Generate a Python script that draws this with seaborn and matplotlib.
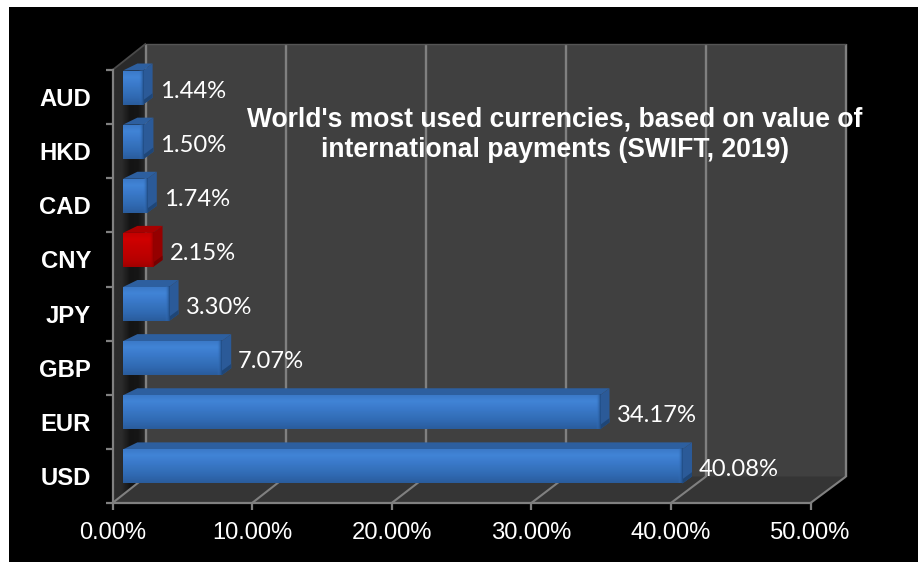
import matplotlib
matplotlib.use("Agg")
import matplotlib.pyplot as plt
import numpy as np
import pandas as pd
import seaborn as sns
from matplotlib.colors import LinearSegmentedColormap
from matplotlib.patches import Polygon, Rectangle
from matplotlib.transforms import IdentityTransform, Affine2D

currencies = ["AUD", "HKD", "CAD", "CNY", "JPY", "GBP", "EUR", "USD"]
shares = [1.44, 1.50, 1.74, 2.15, 3.30, 7.07, 34.17, 40.08]
highlighted = "CNY"
x_ticks = [0, 10, 20, 30, 40, 50]
title = "World's most used currencies, based on value of\ninternational payments (SWIFT, 2019)"

W, H, DPI = 918, 562, 100
LEFT, RIGHT, TOP, BOTTOM = 112.5, 810.5, 70.0, 503.0
WALL_DX, WALL_DY = 33.5, 26.5
WALL_SCALE = 700 / (RIGHT - LEFT)  # the back wall reads slightly wider in perspective
FACE_DX, FACE_DY = 10.5, 9.5
BACK_DX, BACK_DY = 20.0, 16.5
GRID = "#808080"

sns.set_theme(style="white")
fig = plt.figure(figsize=(W / DPI, H / DPI), dpi=DPI, facecolor="white")
fig.patches.append(Rectangle((9 / W, 0), 1, 1 - 7 / H, transform=fig.transFigure,
                             facecolor="black", edgecolor="none", zorder=-10))
ax = fig.add_axes([LEFT / W, 1 - BOTTOM / H, (RIGHT - LEFT) / W, (BOTTOM - TOP) / H])
ax.patch.set_alpha(0)

df = pd.DataFrame({"currency": currencies, "share": shares})
palette = {c: ("#c00000" if c == highlighted else "#3570b8") for c in currencies}
sns.barplot(data=df, y="currency", x="share", hue="currency", order=currencies,
            palette=palette, width=0.63, orient="h", legend=False, ax=ax, zorder=5)
ax.set_xlim(0, 50)
ax.set_ylim(len(currencies) - 0.5, -0.5)
fig.canvas.draw()


def to_px(x, y, dx=0.0, dy=0.0):
    px, py = ax.transData.transform((x, y))
    return px + dx, py + dy


def wall_px(x, y):
    px, py = ax.transData.transform((x, y))
    return LEFT + WALL_DX + (px - LEFT) * WALL_SCALE, py + WALL_DY


def poly(points, color, z):
    ax.add_patch(Polygon(points, closed=True, facecolor=color, edgecolor="none",
                         transform=IdentityTransform(), zorder=z, clip_on=False))


def segment(a, b, color, width, z=2):
    ax.plot([a[0], b[0]], [a[1], b[1]], color=color, linewidth=width, zorder=z,
            transform=IdentityTransform(), clip_on=False, solid_capstyle="butt")


y_low, y_high = len(currencies) - 0.5, -0.5

# Room: back wall, floor and left wall
poly([wall_px(0, y_low), wall_px(50, y_low), wall_px(50, y_high), wall_px(0, y_high)], "#404040", 1)
poly([to_px(0, y_low), to_px(50, y_low), wall_px(50, y_low), wall_px(0, y_low)], "#353535", 1)
left_wall = [to_px(0, y_low), wall_px(0, y_low), wall_px(0, y_high), to_px(0, y_high)]
poly(left_wall, "#2a2a2a", 1)

# Shadow band cast on the left wall
shade = LinearSegmentedColormap.from_list("shade", ["#2c2c2c", "#2c2c2c", "#141414", "#161616", "#2b2b2b"])
x0 = to_px(0, y_low)[0]
wall_img = ax.imshow(np.linspace(0, 1, 64)[None, :], cmap=shade, aspect="auto",
                     extent=(x0, x0 + WALL_DX, to_px(0, y_low)[1], wall_px(0, y_high)[1]),
                     transform=IdentityTransform(), zorder=1.2)
wall_img.set_clip_path(Polygon(left_wall, transform=IdentityTransform()))

# Gridlines on the back wall with their diagonals across the floor
for t in x_ticks:
    segment(wall_px(t, y_low), wall_px(t, y_high), GRID, 1.7)
    segment(to_px(t, y_low), wall_px(t, y_low), GRID, 1.5)
segment(to_px(0, y_high), wall_px(0, y_high), "#4a4a4a", 1.3)
segment(wall_px(0, y_high), wall_px(50, y_high), "#555555", 1.0)

# Extruded bars: the front face sits part-way into the room
face_tr = ax.transData + Affine2D().translate(FACE_DX, FACE_DY)
ramps = {
    "#3570b8": (["#3a78c6", "#4184d6", "#3b7acb", "#3572bd", "#2f68b0", "#2a5c9c"],
                "#2d5f9f", "#2b5a98", "#1f4677", "#1f4a80"),
    "#c00000": (["#c00000", "#d00000", "#c60000", "#c00000", "#b60000", "#a00000"],
                "#a80000", "#950000", "#760000", "#8c0000"),
}
for patch, cur in zip(ax.patches, currencies):
    x1 = patch.get_width()
    yt, yb = patch.get_y(), patch.get_y() + patch.get_height()
    stops, top_c, side_c, side_dark, edge_c = ramps[palette[cur]]
    patch.set_transform(face_tr)
    patch.set_linewidth(0)
    poly([to_px(0, yt, FACE_DX, FACE_DY), to_px(x1, yt, FACE_DX, FACE_DY),
          to_px(x1, yt, BACK_DX, BACK_DY), to_px(0.35, yt, BACK_DX, BACK_DY)], top_c, 4)
    poly([to_px(x1, yt, FACE_DX, FACE_DY), to_px(x1, yt, BACK_DX, BACK_DY),
          to_px(x1, yb, BACK_DX, BACK_DY), to_px(x1, yb, FACE_DX, FACE_DY)], side_c, 4)
    poly([to_px(x1, yb, FACE_DX, FACE_DY), to_px(x1, yb, BACK_DX, BACK_DY),
          to_px(x1, yb - 0.08, BACK_DX, BACK_DY), to_px(x1, yb - 0.08, FACE_DX, FACE_DY)], side_dark, 4.1)
    cmap = LinearSegmentedColormap.from_list(cur, stops)
    img = ax.imshow(np.linspace(0, 1, 64)[:, None], cmap=cmap, aspect="auto",
                    extent=(0, x1, yb, yt), transform=face_tr, zorder=6)
    img.set_clip_path(patch)
    # The right end of the face fades into the side
    fade = LinearSegmentedColormap.from_list(cur + "_fade", [stops[2] + "00", edge_c + "ff"])
    right_px = to_px(x1, yt, FACE_DX)[0]
    _, py_top = to_px(x1, yt, 0, FACE_DY)
    _, py_bot = to_px(x1, yb, 0, FACE_DY)
    ax.imshow(np.linspace(0, 1, 16)[None, :], cmap=fade, aspect="auto",
              extent=(right_px - 4.5, right_px, py_bot, py_top),
              transform=IdentityTransform(), zorder=6.5)
    ax.annotate(f"{x1:.2f}%", xy=(x1, currencies.index(cur)), xycoords="data",
                xytext=(27, 6), textcoords="offset pixels", ha="left", va="center",
                fontsize=17.1, family="Lato", color="white", zorder=10, annotation_clip=False)

ax.set_xlim(0, 50)
ax.set_ylim(y_low, y_high)

# Axes, ticks and tick labels
for side in ("top", "right"):
    ax.spines[side].set_visible(False)
for side in ("left", "bottom"):
    ax.spines[side].set_color(GRID)
    ax.spines[side].set_linewidth(1.6)
    ax.spines[side].set_zorder(3)
ax.set_xlabel("")
ax.set_ylabel("")
ax.set_xticks(x_ticks, [f"{t:.2f}%" for t in x_ticks])
ax.set_yticks(range(len(currencies)), currencies)
ax.set_yticks(np.arange(len(currencies) + 1) - 0.5, minor=True)
ax.tick_params(axis="x", which="major", bottom=True, length=5, width=1.6, color=GRID,
               labelcolor="white", labelsize=17.1, pad=9)
ax.tick_params(axis="y", which="major", left=False, labelcolor="white", labelsize=17.2, pad=9.5)
ax.tick_params(axis="y", which="minor", left=True, length=5, width=1.6, color=GRID)
for lab in ax.get_xticklabels():
    lab.set_family("Liberation Sans")
for lab in ax.get_yticklabels():
    lab.set_family("Liberation Sans")
    lab.set_fontweight("bold")

ax.set_title(title, x=(555 - LEFT) / (RIGHT - LEFT), y=(BOTTOM - 143.5) / (BOTTOM - TOP), va="center",
             fontsize=19.1, fontweight="bold", family="Liberation Sans", color="white",
             linespacing=1.22)
ax.title.set_zorder(12)

fig.savefig("out.png", dpi=DPI, facecolor="white")
